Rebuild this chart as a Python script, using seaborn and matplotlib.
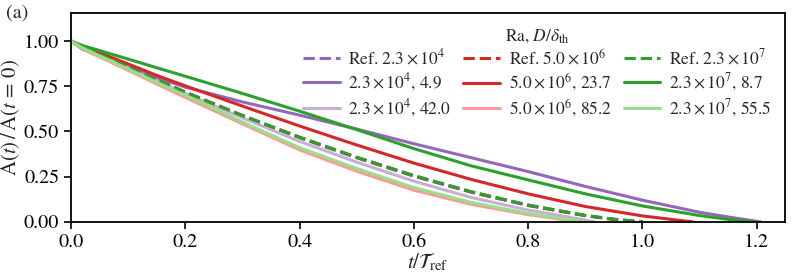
import matplotlib
matplotlib.use("Agg")
import matplotlib.pyplot as plt
import seaborn as sns
import pandas as pd

# t / T_ref and A(t)/A(t=0)
t_ref = [0, 0.02, 0.05, 0.1, 0.15, 0.2, 0.3, 0.4, 0.5, 0.6, 0.7, 0.8, 0.9, 0.95, 1.0]
ref_lo = [1.0, 0.962, 0.922, 0.852, 0.782, 0.714, 0.585, 0.465, 0.354, 0.252, 0.164, 0.09, 0.034, 0.013, 0.0]
ref_mid = [1.0, 0.968, 0.928, 0.857, 0.786, 0.718, 0.588, 0.468, 0.357, 0.255, 0.166, 0.092, 0.035, 0.014, 0.0]
ref_hi = [1.0, 0.966, 0.926, 0.856, 0.785, 0.717, 0.588, 0.468, 0.357, 0.256, 0.167, 0.093, 0.036, 0.015, 0.0]

t_p1 = [0, 0.02, 0.05, 0.1, 0.15, 0.2, 0.3, 0.4, 0.5, 0.6, 0.7, 0.8, 0.9, 1.0, 1.1, 1.15, 1.207]
p1 = [1.0, 0.955, 0.915, 0.855, 0.797, 0.745, 0.663, 0.59, 0.513, 0.432, 0.355, 0.278, 0.196, 0.12, 0.053, 0.027, 0.0]
t_p2 = [0, 0.02, 0.05, 0.1, 0.15, 0.2, 0.3, 0.4, 0.5, 0.6, 0.7, 0.8, 0.85, 0.9, 0.915]
p2 = [1.0, 0.96, 0.918, 0.85, 0.78, 0.71, 0.575, 0.445, 0.33, 0.225, 0.135, 0.065, 0.038, 0.01, 0.0]

t_r1 = [0, 0.02, 0.05, 0.1, 0.15, 0.2, 0.3, 0.4, 0.5, 0.6, 0.7, 0.8, 0.9, 1.0, 1.05, 1.088]
r1 = [1.0, 0.97, 0.935, 0.873, 0.81, 0.752, 0.64, 0.53, 0.425, 0.325, 0.235, 0.155, 0.085, 0.033, 0.014, 0.0]
t_r2 = [0, 0.02, 0.05, 0.1, 0.15, 0.2, 0.3, 0.4, 0.5, 0.6, 0.7, 0.8, 0.85, 0.88]
r2 = [1.0, 0.958, 0.912, 0.838, 0.762, 0.688, 0.542, 0.398, 0.28, 0.175, 0.097, 0.04, 0.018, 0.0]

t_g1 = [0, 0.02, 0.05, 0.1, 0.15, 0.2, 0.3, 0.4, 0.5, 0.6, 0.7, 0.8, 0.9, 1.0, 1.1, 1.15, 1.195]
g1 = [1.0, 0.975, 0.947, 0.9, 0.852, 0.805, 0.71, 0.612, 0.51, 0.405, 0.31, 0.232, 0.155, 0.088, 0.035, 0.014, 0.0]
t_g2 = [0, 0.02, 0.05, 0.1, 0.15, 0.2, 0.3, 0.4, 0.5, 0.6, 0.7, 0.8, 0.85, 0.88, 0.9]
g2 = [1.0, 0.962, 0.918, 0.845, 0.772, 0.70, 0.552, 0.41, 0.295, 0.19, 0.108, 0.047, 0.023, 0.01, 0.0]

labels = [r"Ref. $2.3\times10^{4}$", r"$2.3\times10^{4}$, 4.9", r"$2.3\times10^{4}$, 42.0",
          r"Ref. $5.0\times10^{6}$", r"$5.0\times10^{6}$, 23.7", r"$5.0\times10^{6}$, 85.2",
          r"Ref. $2.3\times10^{7}$", r"$2.3\times10^{7}$, 8.7", r"$2.3\times10^{7}$, 55.5"]

sns.set_style("ticks")
plt.rcParams["font.family"] = ["STIXGeneral", "DejaVu Serif"]
plt.rcParams["mathtext.fontset"] = "stix"
plt.rcParams["axes.linewidth"] = 1.3

curves = [
    (t_ref, ref_lo, "#9467bd", "--"),
    (t_p1, p1, "#9467bd", "-"),
    (t_p2, p2, "#c5b0d5", "-"),
    (t_ref, ref_mid, "#d62728", "--"),
    (t_r1, r1, "#d62728", "-"),
    (t_r2, r2, "#ff9896", "-"),
    (t_ref, ref_hi, "#2ca02c", "--"),
    (t_g1, g1, "#2ca02c", "-"),
    (t_g2, g2, "#98df8a", "-"),
]

fig = plt.figure(figsize=(7.92, 2.77), dpi=100)
ax = fig.add_axes([0.0896, 0.199, 0.902, 0.753])

for (tt, yy, col, ls), lab in zip(curves, labels):
    df = pd.DataFrame({"t": tt, "A": yy})
    sns.lineplot(data=df, x="t", y="A", ax=ax, color=col, linestyle=ls,
                 linewidth=2.2, label=lab, sort=False)

ax.set_xlim(0, 1.25)
ax.set_ylim(0, 1.153)
ax.set_xticks([0, 0.2, 0.4, 0.6, 0.8, 1.0, 1.2])
ax.set_yticks([0, 0.25, 0.5, 0.75, 1.0])
ax.xaxis.set_major_formatter(matplotlib.ticker.FormatStrFormatter("%.1f"))
ax.yaxis.set_major_formatter(matplotlib.ticker.FormatStrFormatter("%.2f"))
ax.tick_params(direction="out", length=5, width=1.2, labelsize=14.5, colors="black")
ax.set_xlabel(r"$t/\mathcal{T}_{\mathrm{ref}}$", fontsize=15, labelpad=0)
ax.set_ylabel(r"$\mathrm{A}(t)\,/\,\mathrm{A}(t\,=\,0)$", fontsize=15, labelpad=1)
for s in ax.spines.values():
    s.set_visible(True)
    s.set_color("black")

leg = ax.legend(ncol=3, loc="upper right", bbox_to_anchor=(0.995, 0.985), frameon=False,
                fontsize=12.5, title=r"Ra, $D/\delta_{\mathrm{th}}$", title_fontsize=12.5,
                handlelength=2.1, columnspacing=0.7, handletextpad=0.5, labelspacing=0.2,
                borderaxespad=0.2)

fig.text(0.008, 0.935, "(a)", fontsize=14.5)
fig.savefig("out.png", dpi=100)
